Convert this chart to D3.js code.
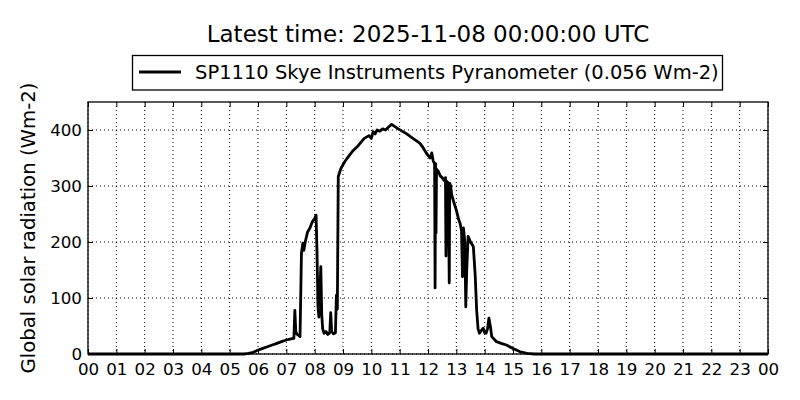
<!DOCTYPE html>
<html>
<head>
<meta charset="utf-8">
<script src="https://cdn.jsdelivr.net/npm/d3@7"></script>
<style>
  body { margin: 0; background: #fff; }
  text { font-family: "DejaVu Sans", sans-serif; fill: #000; }
</style>
</head>
<body>
<svg id="chart" width="800" height="400"></svg>
<script>
// data (UTC time of day, Wm-2)
const times = [
  "00:00","05:30","05:40","05:50","06:00","06:10","06:20","06:30","06:40","06:50",
  "07:00","07:10","07:16","07:18","07:20","07:22","07:26","07:29","07:32","07:35",
  "07:37","07:40","07:45","07:50","07:55","08:00","08:03","08:05","08:07","08:09",
  "08:11","08:13","08:15","08:17","08:20","08:24","08:28","08:32","08:34","08:36",
  "08:40","08:44","08:46","08:48","08:50","08:55","09:00","09:05","09:11","09:20",
  "09:30","09:40","09:45","09:55","10:00","10:04","10:08","10:12","10:18","10:24",
  "10:30","10:36","10:43","10:50","10:57","11:05","11:15","11:25","11:35","11:43",
  "11:50","11:57","12:05","12:08","12:11","12:14","12:15","12:16","12:17","12:18",
  "12:22","12:26","12:30","12:34","12:37","12:38","12:40","12:43","12:45","12:46",
  "12:48","12:50","12:55","13:00","13:05","13:08","13:11","13:13","13:15","13:18",
  "13:20","13:22","13:25","13:30","13:36","13:40","13:43","13:46","13:49","13:53",
  "13:57","14:00","14:03","14:06","14:09","14:12","14:15","14:25","14:35","14:46",
  "15:00","15:15","15:30","15:45","24:00"
];
const radiation = [
  0,0,1,3,7,10,13,16,19,22,
  25,27,28,78,40,36,33,31,180,198,
  185,200,218,225,236,242,248,180,84,66,
  110,156,70,45,37,40,35,38,74,40,
  36,38,105,80,317,330,338,345,352,362,
  370,380,385,390,385,397,393,400,398,402,
  400,405,410,406,402,398,393,387,381,376,
  368,358,350,359,345,340,118,340,216,330,
  326,318,315,310,315,175,308,305,127,305,
  300,285,270,257,240,233,220,138,225,200,
  84,150,210,200,192,140,79,45,37,42,
  46,38,37,45,64,50,31,22,19,16,
  10,4,1,0,0
];
const title = "Latest time: 2025-11-08 00:00:00 UTC";
const seriesName = "SP1110 Skye Instruments Pyranometer (0.056 Wm-2)";
const yTicks = [0, 100, 200, 300, 400];

function toDate(t) {
  const [h, m] = t.split(":").map(Number);
  return new Date(Date.UTC(2025, 10, 7, h, m));
}
const data = times.map((t, i) => ({ date: toDate(t), value: radiation[i] }));

var svg = d3.select("#chart");
const margin = { top: 102, right: 32, bottom: 46, left: 88 };
const width = 800 - margin.left - margin.right;
const height = 400 - margin.top - margin.bottom;

const x = d3.scaleUtc()
  .domain([new Date(Date.UTC(2025, 10, 7)), new Date(Date.UTC(2025, 10, 8))])
  .range([0, width]);
const y = d3.scaleLinear().domain([0, 450]).range([height, 0]);

const g = svg.append("g").attr("transform", `translate(${margin.left},${margin.top})`);

const xTicks = d3.utcHour.every(1).range(x.domain()[0], d3.utcHour.offset(x.domain()[1], 1));

// grid
g.append("g")
  .selectAll("line")
  .data(xTicks)
  .join("line")
  .attr("x1", (d) => x(d)).attr("x2", (d) => x(d))
  .attr("y1", 0).attr("y2", height)
  .attr("stroke", "#000").attr("stroke-width", 1)
  .attr("stroke-dasharray", "1,3");
g.append("g")
  .selectAll("line")
  .data(yTicks)
  .join("line")
  .attr("x1", 0).attr("x2", width)
  .attr("y1", (d) => y(d)).attr("y2", (d) => y(d))
  .attr("stroke", "#000").attr("stroke-width", 1)
  .attr("stroke-dasharray", "1,3");

// axes, ticks inward on all four sides
const fmt = d3.utcFormat("%H");
g.append("g")
  .attr("transform", `translate(0,${height})`)
  .call(d3.axisBottom(x).tickValues(xTicks).tickFormat(fmt).tickSizeInner(-5).tickSizeOuter(0).tickPadding(9));
g.append("g")
  .call(d3.axisTop(x).tickValues(xTicks).tickFormat("").tickSizeInner(-5).tickSizeOuter(0));
g.append("g")
  .call(d3.axisLeft(y).tickValues(yTicks).tickSizeInner(-5).tickSizeOuter(0).tickPadding(6));
g.append("g")
  .attr("transform", `translate(${width},0)`)
  .call(d3.axisRight(y).tickValues(yTicks).tickFormat("").tickSizeInner(-5).tickSizeOuter(0));

g.selectAll(".domain").remove();
g.selectAll(".tick line").attr("stroke", "#000");
g.selectAll(".tick text").style("font-size", "16.7px").style("font-family", "DejaVu Sans");

// line
const line = d3.line()
  .x((d) => x(d.date))
  .y((d) => y(d.value));
g.append("path")
  .datum(data)
  .attr("fill", "none")
  .attr("stroke", "#000")
  .attr("stroke-width", 2.8)
  .attr("stroke-linejoin", "round")
  .attr("d", line);

// frame
g.append("rect")
  .attr("width", width).attr("height", height)
  .attr("fill", "none").attr("stroke", "#000").attr("stroke-width", 1.3);

// title
svg.append("text")
  .attr("x", margin.left + width / 2)
  .attr("y", 42)
  .attr("text-anchor", "middle")
  .style("font-size", "23px")
  .text(title);

// legend
const legend = svg.append("g");
legend.append("rect")
  .attr("x", 132.5).attr("y", 55.5).attr("width", 590).attr("height", 34.5)
  .attr("fill", "#fff").attr("stroke", "#000").attr("stroke-width", 1.3);
legend.append("line")
  .attr("x1", 139).attr("x2", 181).attr("y1", 72).attr("y2", 72)
  .attr("stroke", "#000").attr("stroke-width", 2.8);
legend.append("text")
  .attr("x", 195).attr("y", 79)
  .style("font-size", "19.5px")
  .text(seriesName);

// y label
svg.append("text")
  .attr("transform", `translate(35,${margin.top + height / 2}) rotate(-90)`)
  .attr("text-anchor", "middle")
  .style("font-size", "19.7px")
  .text("Global solar radiation (Wm-2)");
</script>
</body>
</html>
